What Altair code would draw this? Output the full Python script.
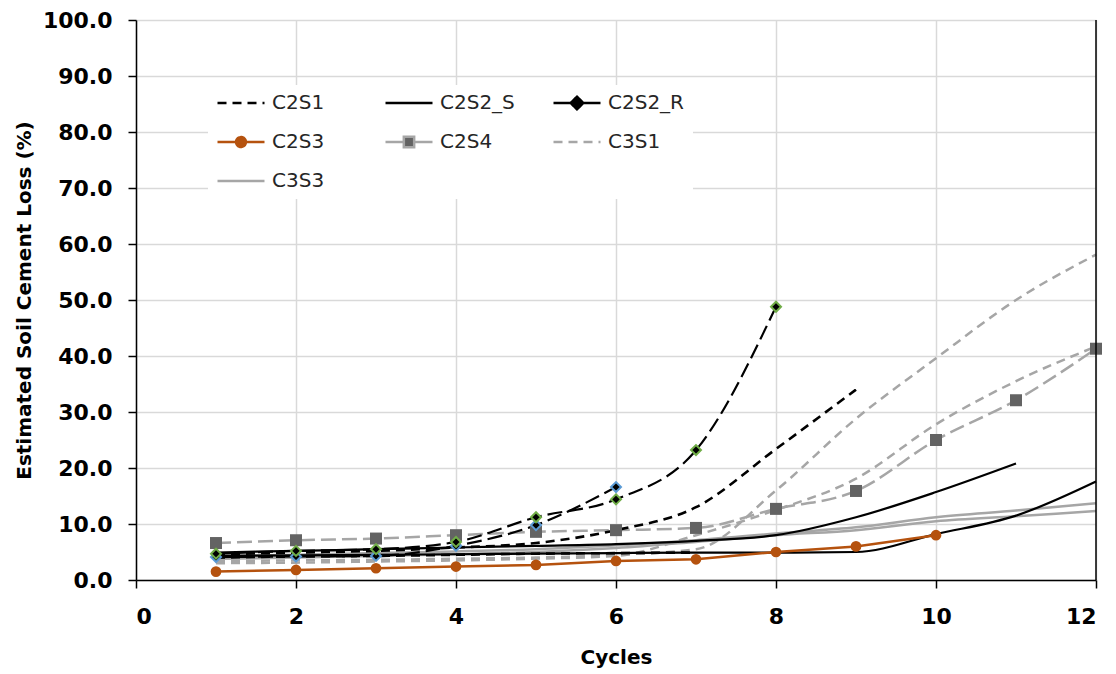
import altair as alt
import pandas as pd

# ---------------- data ----------------
cycles = list(range(1, 13))

c2s1_a = [4.6, 4.9, 5.2, 5.8, 6.6, 8.9, 13.0, 23.4, 34.0]
c2s1_b = [4.0, 4.2, 4.3, 4.5, 4.7, 4.8, 4.9]
c2s2s_a = [4.9, 5.2, 5.5, 5.8, 6.1, 6.4, 7.0, 8.0, 11.2, 15.7, 20.8]
c2s2s_b = [4.3, 4.4, 4.5, 4.6, 4.7, 4.8, 4.9, 4.9, 5.0, 8.2, 11.5, 17.6]
c2s2r_a = [4.1, 4.2, 4.3, 6.1, 9.8, 16.6]
c2s2r_b = [4.7, 5.2, 5.5, 6.8, 11.2, 14.4, 23.2, 48.8]
c2s3 = [1.5, 1.8, 2.1, 2.4, 2.7, 3.4, 3.7, 5.0, 6.0, 8.0]
c2s4 = [6.6, 7.1, 7.4, 8.0, 8.6, 8.9, 9.3, 12.7, 15.9, 25.0, 32.1, 41.3]
c3s1_a = [3.4, 3.5, 3.6, 3.8, 4.0, 4.5, 5.5, 16.0, 28.8, 39.6, 50.0, 58.1]
c3s1_b = [3.0, 3.1, 3.3, 3.5, 3.8, 4.3, 8.0, 12.5, 18.1, 27.8, 35.5, 41.7]
c3s3_a = [4.3, 4.5, 4.8, 5.1, 5.5, 6.2, 7.1, 8.3, 9.4, 11.2, 12.4, 13.7]
c3s3_b = [3.8, 4.0, 4.3, 4.6, 5.0, 5.7, 6.8, 8.0, 8.9, 10.5, 11.4, 12.3]

# legend entries (domain order chosen so the 3-column grid reads row by row:
# C2S1 C2S2_S C2S2_R / C2S3 C2S4 C3S1 / C3S3)
legend_names = ["C2S1", "C2S3", "C3S1", "C2S2_S", "C2S4", "C3S3", "C2S2_R"]

x_ticks = list(range(0, 13, 2))
y_ticks = list(range(0, 101, 10))

series = {
    "C2S1_a": c2s1_a, "C2S1_b": c2s1_b,
    "C2S2_S_a": c2s2s_a, "C2S2_S_b": c2s2s_b,
    "C2S2_R_a": c2s2r_a, "C2S2_R_b": c2s2r_b,
    "C2S3": c2s3, "C2S4": c2s4,
    "C3S1_a": c3s1_a, "C3S1_b": c3s1_b,
    "C3S3_a": c3s3_a, "C3S3_b": c3s3_b,
}
rows = []
for name, vals in series.items():
    for c, v in zip(cycles, vals):
        rows.append({"series": name, "cycle": c, "value": v})
df = pd.DataFrame(rows)

# ---------------- styles ----------------
BLACK = "#000000"
BROWN = "#B5520E"
LGRAY = "#A6A6A6"
DGRAY = "#636363"
GREEN = "#70AD47"
BLUE = "#5B9BD5"
SHORT = [9, 6]
LONG = [15, 6]
FONT = "DejaVu Sans"

xenc = alt.X("cycle:Q", scale=alt.Scale(domain=[0, 12], nice=False),
             axis=alt.Axis(values=x_ticks, title="Cycles", format="d"))
yenc = alt.Y("value:Q", scale=alt.Scale(domain=[0, 100], nice=False),
             axis=alt.Axis(values=y_ticks, format=".1f",
                           title="Estimated Soil Cement Loss (%)"))

base = alt.Chart(df)


def line(name, color, dash=None, width=2.2, interp="monotone"):
    kw = dict(color=color, strokeWidth=width, interpolate=interp)
    if dash:
        kw["strokeDash"] = dash
    return base.transform_filter(alt.datum.series == name).mark_line(**kw).encode(x=xenc, y=yenc)


def points(name, **kw):
    return base.transform_filter(alt.datum.series == name).mark_point(opacity=1, **kw).encode(x=xenc, y=yenc)


layers = [
    line("C3S3_a", LGRAY, width=2.5),
    line("C3S3_b", LGRAY, width=2.5),
    line("C3S1_a", LGRAY, SHORT, width=2.5),
    line("C3S1_b", LGRAY, SHORT, width=2.5),
    line("C2S4", LGRAY, LONG, width=2.5),
    line("C2S1_a", BLACK, SHORT, width=2.6),
    line("C2S1_b", BLACK, SHORT, width=2.6),
    line("C2S2_S_a", BLACK, width=2.2),
    line("C2S2_S_b", BLACK, width=2.2),
    line("C2S2_R_a", BLACK, LONG, width=2.2),
    line("C2S2_R_b", BLACK, LONG, width=2.2),
    line("C2S3", BROWN, width=2.5, interp="linear"),
    points("C2S4", shape="square", filled=True, color=DGRAY, size=144),
    points("C2S2_R_a", shape="diamond", filled=True, fill=BLACK, stroke=BLUE, strokeWidth=2, size=100),
    points("C2S2_R_b", shape="diamond", filled=True, fill=BLACK, stroke=GREEN, strokeWidth=2, size=100),
    points("C2S3", shape="circle", filled=True, color=BROWN, size=115),
]

# right-hand frame line at the end of the x range
frame = alt.Chart(pd.DataFrame({"edge": [12]})).mark_rule(color=BLACK, strokeWidth=1.5).encode(
    x=alt.X("edge:Q", scale=alt.Scale(domain=[0, 12], nice=False)))

# ---------------- legend (single merged legend with custom symbols) ----------------
LINE = "M-1,0L1,0"
CIRC = "M-1,0L1,0M0.21,0A0.21,0.21,0,1,1,-0.21,0A0.21,0.21,0,1,1,0.21,0Z"
SQR = "M-1,0L-0.22,0M0.22,0L1,0M-0.22,-0.22L0.22,-0.22L0.22,0.22L-0.22,0.22Z"
DIAM = "M-1,0L1,0M0,-0.27L0.27,0L0,0.27L-0.27,0Z"

style = {
    "C2S1": (LINE, BLACK, "transparent", SHORT),
    "C2S2_S": (LINE, BLACK, "transparent", [1, 0]),
    "C2S2_R": (DIAM, BLACK, BLACK, [1, 0]),
    "C2S3": (CIRC, BROWN, BROWN, [1, 0]),
    "C2S4": (SQR, LGRAY, DGRAY, [1, 0]),
    "C3S1": (LINE, LGRAY, "transparent", SHORT),
    "C3S3": (LINE, LGRAY, "transparent", [1, 0]),
}
leg_shape = [style[n][0] for n in legend_names]
leg_stroke = [style[n][1] for n in legend_names]
leg_fill = [style[n][2] for n in legend_names]
leg_dash = [style[n][3] for n in legend_names]

leg = alt.Legend(title=None, orient="none", legendX=72, legendY=65, columns=3,
                 symbolSize=2209, symbolStrokeWidth=2.5, clipHeight=20,
                 rowPadding=19, columnPadding=35, gridAlign="all",
                 labelFont=FONT, labelFontSize=20, labelColor="#262626",
                 labelOffset=6, fillColor="white", padding=8, labelLimit=300)

legend_layer = base.transform_filter(alt.datum.value < -1000).mark_point(opacity=1).encode(
    x=xenc, y=yenc,
    shape=alt.Shape("series:N", scale=alt.Scale(domain=legend_names, range=leg_shape), legend=leg),
    stroke=alt.Stroke("series:N", scale=alt.Scale(domain=legend_names, range=leg_stroke), legend=leg),
    fill=alt.Fill("series:N", scale=alt.Scale(domain=legend_names, range=leg_fill), legend=leg),
    strokeDash=alt.StrokeDash("series:N", scale=alt.Scale(domain=legend_names, range=leg_dash), legend=leg),
)

chart = alt.layer(*layers, frame, legend_layer).properties(
    width=960, height=560,
    autosize=alt.AutoSizeParams(type="none"),
    padding={"left": 128, "top": 12, "right": 12, "bottom": 94},
).configure_view(stroke=None).configure_axis(
    labelFont=FONT, labelFontWeight="bold", labelFontSize=22, labelColor="black",
    titleFont=FONT, titleFontWeight="bold", titleFontSize=20, titleColor="black",
    gridColor="#D9D9D9", gridWidth=1.5, domainColor="black", domainWidth=1.5,
    tickColor="black", tickWidth=1.5, tickSize=8,
).configure_axisY(titlePadding=8, labelPadding=16).configure_axisX(titlePadding=20, labelPadding=18)

chart.save("out.html", embed_options={"renderer": "svg", "actions": False})
